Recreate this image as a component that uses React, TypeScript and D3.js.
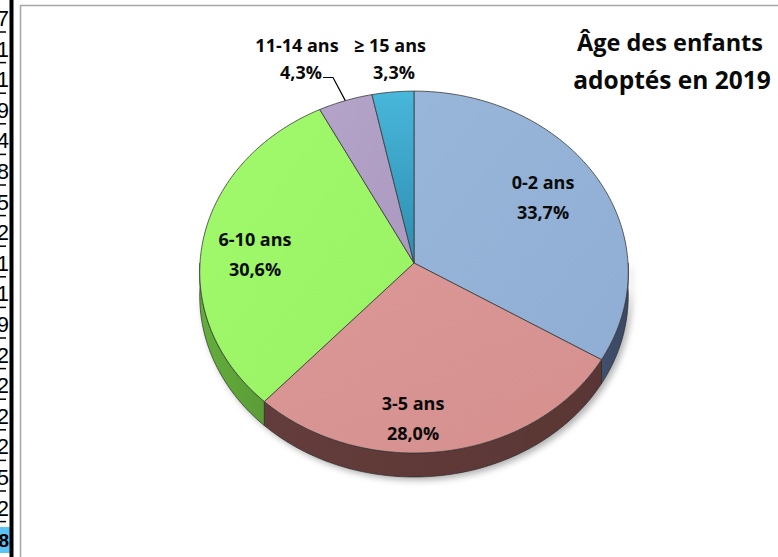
import { useRef, useEffect } from 'react';
import * as d3 from 'd3';

// chart values (percent)
const categories = ['0-2 ans', '3-5 ans', '6-10 ans', '11-14 ans', '≥ 15 ans'];
const shares = [33.7, 28.0, 30.6, 4.3, 3.3];
const shareLabels = ['33,7%', '28,0%', '30,6%', '4,3%', '3,3%'];
const titleLines = ['Âge des enfants', 'adoptés en 2019'];

// spreadsheet cells peeking out on the left
const cellDigits = ['7', '1', '1', '9', '4', '8', '5', '2', '1', '1', '9', '2', '2', '2', '2', '5', '2', '8'];

const topColors = ['#98B6DA', '#DB9896', '#A0FA6C', '#B5A4C9', '#48B7DA'];
const topColorsDark = ['#90AED3', '#D5908E', '#98F263', '#AB99C0', '#2D8DB0'];
const sideColors = ['#3A4862', '#5A3635', '#5A9C36', '#6E5F83', '#276E88'];

// label anchor points (center of the two lines)
const labelPos: [number, number][] = [[543, 197], [413, 418], [255, 254], [297, 59], [390, 59]];

export default function App() {
    const svgRef = useRef<SVGSVGElement>(null);

    useEffect(() => {
        if (!svgRef.current) return;
        document.body.style.margin = '0';

        const W = 778, H = 557;
        const cx = 414, cy = 263, RX = 214, RY = 180.5, K = 0.05, depth = 24;

        const svg = d3.select(svgRef.current).attr('width', W).attr('height', H);
        svg.selectAll('*').remove();

        svg.append('rect').attr('width', W).attr('height', H).attr('fill', '#fff');

        // left cell strip
        const strip = svg.append('g');
        const rowH = 30.6;
        const nRows = cellDigits.length;
        strip.append('rect')
            .attr('x', 0).attr('y', 527)
            .attr('width', 10).attr('height', 26)
            .attr('fill', '#5BC4F1');
        cellDigits.forEach((d, i) => {
            const last = i === nRows - 1;
            strip.append('text')
                .attr('x', 9)
                .attr('y', last ? 547 : 26 + i * rowH)
                .attr('text-anchor', 'end')
                .attr('font-family', '"Liberation Sans", Arial, sans-serif')
                .attr('font-size', last ? 19 : 22)
                .attr('font-weight', last ? 'bold' : 'normal')
                .attr('fill', '#000')
                .text(d);
            if (i < nRows - 1) {
                const yy = Math.min(32 + i * rowH, 526);
                strip.append('line')
                    .attr('x1', 0).attr('x2', 6)
                    .attr('y1', yy).attr('y2', yy)
                    .attr('stroke', '#000').attr('stroke-width', 1.5);
            }
        });
        strip.append('rect').attr('x', 9.5).attr('y', 0).attr('width', 4).attr('height', H).attr('fill', '#000');

        // chart frame
        svg.append('path')
            .attr('d', `M20.5,${H} V5.5 H${W}`)
            .attr('fill', 'none').attr('stroke', '#A6A6A6').attr('stroke-width', 1.5);

        const defs = svg.append('defs');
        const shadow = defs.append('filter').attr('id', 'shadow')
            .attr('x', '-10%').attr('y', '-10%').attr('width', '130%').attr('height', '130%');
        shadow.append('feDropShadow')
            .attr('dx', 3).attr('dy', 3).attr('stdDeviation', 3)
            .attr('flood-color', '#000').attr('flood-opacity', 0.3);

        topColors.forEach((c, i) => {
            const g = defs.append('linearGradient').attr('id', `top${i}`)
                .attr('x1', '0%').attr('y1', '0%').attr('x2', i === 4 ? '0%' : '100%').attr('y2', '100%');
            g.append('stop').attr('offset', '0%').attr('stop-color', c);
            g.append('stop').attr('offset', '100%').attr('stop-color', topColorsDark[i]);
        });
        sideColors.forEach((c, i) => {
            const g = defs.append('linearGradient').attr('id', `side${i}`)
                .attr('x1', '0%').attr('y1', '0%').attr('x2', '100%').attr('y2', '0%');
            g.append('stop').attr('offset', '0%').attr('stop-color', d3.color(c)!.brighter(0.3).formatHex());
            g.append('stop').attr('offset', '100%').attr('stop-color', c);
        });

        // projection of the tilted disc with a little perspective
        const proj = (a: number, r = 1, dz = 0): [number, number] => {
            const u = r * Math.sin(a);
            const v = -r * Math.cos(a);
            const s = 1 / (1 - K * v);
            return [cx + RX * u * s, cy + RY * v * s + dz];
        };
        const arcPts = (a0: number, a1: number, dz = 0) => {
            const n = Math.max(2, Math.ceil(Math.abs(a1 - a0) / (Math.PI / 180)));
            return d3.range(n + 1).map(k => proj(a0 + (a1 - a0) * k / n, 1, dz));
        };
        const line = d3.line();

        const pie = d3.pie<number>().sort(null).value(d => d);
        const arcs = pie(shares);

        // side walls (front half only)
        const walls = svg.append('g').attr('filter', 'url(#shadow)');
        arcs.forEach((a, i) => {
            const lo = Math.max(a.startAngle, Math.PI / 2);
            const hi = Math.min(a.endAngle, Math.PI * 1.5);
            if (hi <= lo) return;
            const pts = [...arcPts(lo, hi), ...arcPts(hi, lo, depth)];
            walls.append('path')
                .attr('d', line(pts) + 'Z')
                .attr('fill', `url(#side${i})`)
                .attr('stroke', '#2b2b2b').attr('stroke-width', 0.7).attr('stroke-linejoin', 'round');
        });

        // top faces
        const tops = svg.append('g');
        arcs.forEach((a, i) => {
            const pts: [number, number][] = [[cx, cy], ...arcPts(a.startAngle, a.endAngle)];
            tops.append('path')
                .attr('d', line(pts) + 'Z')
                .attr('fill', `url(#top${i})`)
                .attr('stroke', '#3a3a3a').attr('stroke-width', 0.8).attr('stroke-linejoin', 'round');
        });

        // leader line for the 11-14 ans label
        const pa = arcs[3];
        const [lx, ly] = proj((pa.startAngle + pa.endAngle) / 2);
        svg.append('path')
            .attr('d', `M323,77.5 H333 L${lx},${ly}`)
            .attr('fill', 'none').attr('stroke', '#000').attr('stroke-width', 1.2);

        const font = '"Open Sans", Lato, sans-serif';
        categories.forEach((c, i) => {
            const [x, y] = labelPos[i];
            const gap = i >= 3 ? 13.5 : 15;
            const t = svg.append('text')
                .attr('text-anchor', 'middle')
                .attr('font-family', font)
                .attr('font-weight', 'bold')
                .attr('font-size', 18)
                .attr('fill', '#0a0a0a');
            t.append('tspan').attr('x', x).attr('y', y - gap + 6.5).text(c);
            t.append('tspan').attr('x', x + (i >= 3 ? 4 : 0)).attr('y', y + gap + 6.5).text(shareLabels[i]);
        });

        titleLines.forEach((s, i) => {
            svg.append('text')
                .attr('x', i === 0 ? 670 : 672)
                .attr('y', 50.5 + i * 38)
                .attr('text-anchor', 'middle')
                .attr('font-family', font)
                .attr('font-weight', 'bold')
                .attr('font-size', i === 0 ? 23.5 : 24.5)
                .attr('fill', '#0a0a0a')
                .text(s);
        });
    }, []);

    return <svg ref={svgRef} style={{ position: 'absolute', left: 0, top: 0, display: 'block' }} />;
}
